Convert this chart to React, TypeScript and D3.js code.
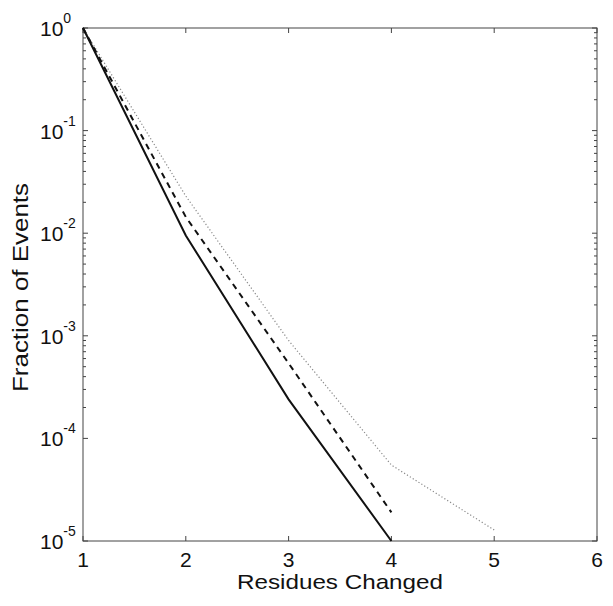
import React, { useRef, useEffect } from "react";
import * as d3 from "d3";

// residues changed (x) and fraction of events (y) for three curves
const residues = [1, 2, 3, 4, 5];
const solidValues = [1, 0.0095, 0.00024, 0.00001];
const dashedValues = [1, 0.0144, 0.00054, 0.000019];
const dottedValues = [1, 0.023, 0.0009, 0.000055, 0.0000128];

const xTicks = [1, 2, 3, 4, 5, 6];
const yExponents = [0, -1, -2, -3, -4, -5];

const App = () => {
  const ref = useRef<SVGSVGElement | null>(null);

  useEffect(() => {
    if (!ref.current) return;
    const svg = d3.select(ref.current);
    svg.selectAll("*").remove();

    const left = 83,
      right = 597,
      top = 28,
      bottom = 541;
    const font = "'Liberation Sans', Arial, Helvetica, sans-serif";
    const axisColor = "#444";

    const x = d3.scaleLinear().domain([1, 6]).range([left, right]);
    const y = d3.scaleLog().domain([1e-5, 1]).range([bottom, top]);

    // frame
    svg
      .append("rect")
      .attr("x", left)
      .attr("y", top)
      .attr("width", right - left)
      .attr("height", bottom - top)
      .attr("fill", "none")
      .attr("stroke", axisColor)
      .attr("stroke-width", 1);

    // x ticks (inward, top and bottom)
    xTicks.forEach((t) => {
      svg
        .append("line")
        .attr("x1", x(t))
        .attr("x2", x(t))
        .attr("y1", bottom)
        .attr("y2", bottom - 5)
        .attr("stroke", axisColor);
      svg
        .append("line")
        .attr("x1", x(t))
        .attr("x2", x(t))
        .attr("y1", top)
        .attr("y2", top + 5)
        .attr("stroke", axisColor);
      svg
        .append("text")
        .attr("x", x(t))
        .attr("y", bottom + 26)
        .attr("text-anchor", "middle")
        .attr("font-family", font)
        .attr("font-size", 21)
        .attr("fill", "#111")
        .text(t);
    });

    // y ticks: major + minor log ticks on both sides
    yExponents.forEach((e) => {
      const base = Math.pow(10, e);
      const steps = e === -5 ? [1] : [1, 2, 3, 4, 5, 6, 7, 8, 9];
      steps.forEach((m) => {
        const v = base * m;
        if (v > 1) return;
        const len = m === 1 ? 5 : 3;
        svg
          .append("line")
          .attr("x1", left)
          .attr("x2", left + len)
          .attr("y1", y(v))
          .attr("y2", y(v))
          .attr("stroke", axisColor);
        svg
          .append("line")
          .attr("x1", right)
          .attr("x2", right - len)
          .attr("y1", y(v))
          .attr("y2", y(v))
          .attr("stroke", axisColor);
      });
      const lab = svg
        .append("text")
        .attr("x", 40)
        .attr("y", y(base) + 8)
        .attr("text-anchor", "start")
        .attr("font-family", font)
        .attr("font-size", 21)
        .attr("fill", "#111");
      lab.append("tspan").text("10");
      lab
        .append("tspan")
        .attr("dy", -13)
        .attr("font-size", 14)
        .text(e);
    });

    const line = d3
      .line<number>()
      .x((d, i) => x(residues[i]))
      .y((d) => y(d));

    svg
      .append("path")
      .attr("d", line(dottedValues))
      .attr("fill", "none")
      .attr("stroke", "#888")
      .attr("stroke-width", 1.2)
      .attr("stroke-dasharray", "1.2,2.2");

    svg
      .append("path")
      .attr("d", line(dashedValues))
      .attr("fill", "none")
      .attr("stroke", "#111")
      .attr("stroke-width", 2)
      .attr("stroke-dasharray", "6,5");

    svg
      .append("path")
      .attr("d", line(solidValues))
      .attr("fill", "none")
      .attr("stroke", "#111")
      .attr("stroke-width", 2);

    // axis titles (reference text is a little wider than the font)
    svg
      .append("text")
      .attr("x", (left + right) / 2)
      .attr("y", 589)
      .attr("text-anchor", "middle")
      .attr("font-family", font)
      .attr("font-size", 21)
      .attr("fill", "#111")
      .attr("textLength", 206)
      .attr("lengthAdjust", "spacingAndGlyphs")
      .text("Residues Changed");

    svg
      .append("text")
      .attr("transform", `translate(28,${(top + bottom) / 2 + 3}) rotate(-90)`)
      .attr("text-anchor", "middle")
      .attr("font-family", font)
      .attr("font-size", 22)
      .attr("fill", "#111")
      .attr("textLength", 209)
      .attr("lengthAdjust", "spacingAndGlyphs")
      .text("Fraction of Events");
  }, []);

  return (
    <svg
      ref={ref}
      width={613}
      height={606}
      style={{ position: "absolute", left: 0, top: 0, background: "#fff" }}
    />
  );
};

export default App;
